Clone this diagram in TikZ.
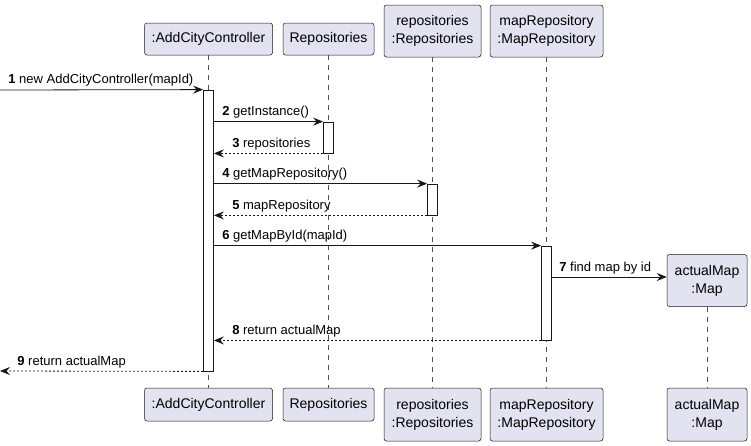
\documentclass[tikz,border=0pt]{standalone}
\usepackage{fontspec}
\setmainfont{Liberation Sans}
\usetikzlibrary{arrows.meta}
\definecolor{partfill}{HTML}{E2E2F0}
\definecolor{partline}{HTML}{181818}
\tikzset{
  participant/.style={draw=partline, fill=partfill, rounded corners=2.5pt, align=center,
    inner sep=0pt, line width=0.5pt, font=\fontsize{14}{18}\selectfont},
  activation/.style={draw=partline, fill=white, minimum width=10pt, inner sep=0pt, line width=0.8pt},
  lifeline/.style={draw=partline!75, dash pattern=on 5pt off 5pt, line width=0.5pt},
  call/.style={draw=partline, line width=0.8pt, -{Stealth[length=10pt,width=8pt,inset=3.5pt]}},
  reply/.style={call, dash pattern=on 2pt off 2pt},
  msglabel/.style={inner sep=0pt, anchor=base west, font=\fontsize{13}{15}\selectfont},
}

\begin{document}
\begin{tikzpicture}[x=1pt, y=-1pt]
        \useasboundingbox (0,0) rectangle (751,445);

        % Define participants (top and bottom)
        \node[participant, minimum width=128pt, minimum height=32pt] (ctrlTop) at (208.5,39) {:AddCityController};
        \node[participant, minimum width=91pt, minimum height=32pt] (repoTop) at (328.5,39) {Repositories};
        \node[participant, minimum width=97pt, minimum height=52pt] (reposTop) at (432.5,31) {repositories\\:Repositories};
        \node[participant, minimum width=113pt, minimum height=52pt] (mapRepoTop) at (546.5,31) {mapRepository\\:MapRepository};
        \node[participant, minimum width=80pt, minimum height=52pt] (mapTop) at (707,280.5) {actualMap\\:Map};

        \node[participant, minimum width=128pt, minimum height=33pt] (ctrlBot) at (208.5,404.5) {:AddCityController};
        \node[participant, minimum width=91pt, minimum height=33pt] (repoBot) at (328.5,404.5) {Repositories};
        \node[participant, minimum width=97pt, minimum height=53pt] (reposBot) at (432.5,414.5) {repositories\\:Repositories};
        \node[participant, minimum width=113pt, minimum height=53pt] (mapRepoBot) at (546.5,414.5) {mapRepository\\:MapRepository};
        \node[participant, minimum width=80pt, minimum height=53pt] (mapBot) at (707,414.5) {actualMap\\:Map};

        % Draw lifelines
        \draw[lifeline] (ctrlTop) -- (ctrlBot);
        \draw[lifeline] (repoTop) -- (repoBot);
        \draw[lifeline] (reposTop) -- (reposBot);
        \draw[lifeline] (mapRepoTop) -- (mapRepoBot);
        \draw[lifeline] (mapTop) -- (mapBot);

        % Define activations
        \node[activation, minimum height=281pt] (ctrlAct) at (208.5,230.5) {};
        \node[activation, minimum height=31pt] (repoAct) at (328.5,137.5) {};
        \node[activation, minimum height=31pt] (reposAct) at (432.5,199.5) {};
        \node[activation, minimum height=94pt] (mapRepoAct) at (546.5,293) {};

        \coordinate (entry) at (0,90);
        \coordinate (exit) at (0,371);
        \coordinate (mapIn) at ([yshift=3.5pt]mapTop.west);

        % Draw messages
        \draw[call] (entry) -- (ctrlAct.north west)
          node[msglabel, pos=0, xshift=8pt, yshift=7pt] {\textbf{1} new AddCityController(mapId)};
        \draw[call] (ctrlAct.east |- repoAct.north) -- (repoAct.north west)
          node[msglabel, pos=0, xshift=8pt, yshift=6pt] {\textbf{2} getInstance()};
        \draw[reply] (repoAct.south west) -- (ctrlAct.east |- repoAct.south)
          node[msglabel, pos=1, xshift=18pt, yshift=6pt] {\textbf{3} repositories};
        \draw[call] (ctrlAct.east |- reposAct.north) -- (reposAct.north west)
          node[msglabel, pos=0, xshift=8pt, yshift=6pt] {\textbf{4} getMapRepository()};
        \draw[reply] (reposAct.south west) -- (ctrlAct.east |- reposAct.south)
          node[msglabel, pos=1, xshift=18pt, yshift=6pt] {\textbf{5} mapRepository};
        \draw[call] (ctrlAct.east |- mapRepoAct.north) -- (mapRepoAct.north west)
          node[msglabel, pos=0, xshift=8pt, yshift=6pt] {\textbf{6} getMapById(mapId)};
        \draw[call] (mapRepoAct.east |- mapIn) -- (mapIn)
          node[msglabel, pos=0, xshift=7pt, yshift=6pt] {\textbf{7} find map by id};
        \draw[reply] (mapRepoAct.south west) -- (ctrlAct.east |- mapRepoAct.south)
          node[msglabel, pos=1, xshift=18pt, yshift=6pt] {\textbf{8} return actualMap};
        \draw[reply] (ctrlAct.south west) -- (exit)
          node[msglabel, pos=1, xshift=17pt, yshift=6pt] {\textbf{9} return actualMap};

\end{tikzpicture}
\end{document}
